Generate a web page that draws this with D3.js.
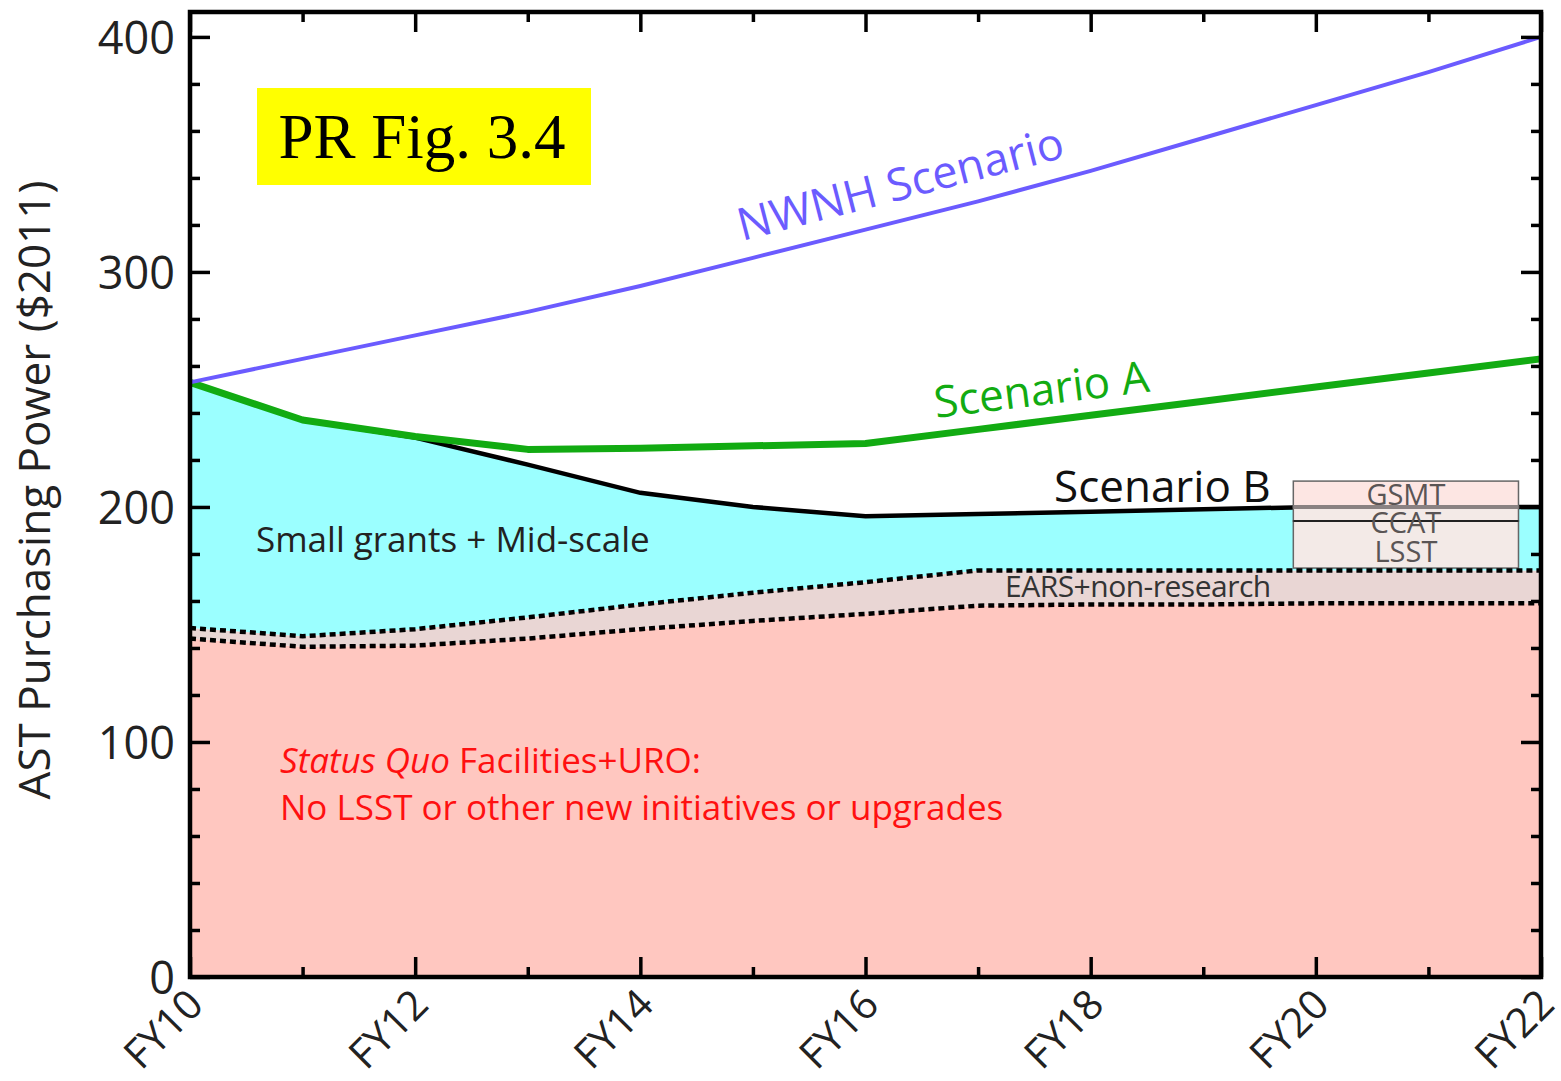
<!DOCTYPE html>
<html>
<head>
<meta charset="utf-8">
<script src="https://cdn.jsdelivr.net/npm/d3@7"></script>
<style>
  html, body { margin: 0; padding: 0; background: #fff; }
  svg { display: block; font-family: "Open Sans", sans-serif; }
</style>
</head>
<body>
<svg id="chart" width="1561" height="1081"></svg>
<script>
// fiscal years (FY10 .. FY22)
const years = [10, 11, 12, 13, 14, 15, 16, 17, 18, 19, 20, 21, 22];
const nwnh = [253, 263, 273, 283, 294, 306, 318, 330, 343, 357, 371, 385, 400];
const scenarioA = [253, 237, 230, 224.5, 225, 226, 227, 233, 239, 245, 251, 257, 263];
const scenarioB = [253, 237, 229.5, 218, 206, 200, 196, 197, 198, 199, 200, 200, 200];
const earsTop = [148.5, 145, 148, 153, 158.5, 163.5, 168, 173, 173, 173, 173, 173, 173];
const statusQuo = [144, 140.5, 141, 144, 148, 151.5, 154.5, 158, 158.5, 158.5, 159, 159, 159];

// new-initiative box (FY19.8 - FY21.8)
const boxYears = [19.8, 21.8];
const boxParts = ['LSST', 'CCAT', 'GSMT'];
const boxLow = [174, 194, 200];
const boxHigh = [194, 200, 211];

const yMajor = [0, 100, 200, 300, 400];
const yMinor = [20, 40, 60, 80, 120, 140, 160, 180, 220, 240, 260, 280, 320, 340, 360, 380];
const xMajor = [10, 12, 14, 16, 18, 20, 22];
const xMinor = [11, 13, 15, 17, 19, 21];

const pLeft = 190, pRight = 1541, pTop = 12, pBottom = 977;
const svg = d3.select('#chart');

const x = d3.scaleLinear().domain([10, 22]).range([pLeft, pRight]);
const y = d3.scaleLinear().domain([0, 410.6]).range([pBottom, pTop]);

const rows = years.map((yr, i) => ({
  year: yr, nwnh: nwnh[i], a: scenarioA[i], b: scenarioB[i], ears: earsTop[i], sq: statusQuo[i]
}));

const area = (lo, hi) => d3.area().x(d => x(d.year)).y0(lo).y1(hi);
const line = key => d3.line().x(d => x(d.year)).y(d => y(d[key]));

// Filled bands
svg.append('path').datum(rows)
  .attr('d', area(() => y(0), d => y(d.sq)))
  .attr('fill', '#ffc7c0');
svg.append('path').datum(rows)
  .attr('d', area(d => y(d.sq), d => y(d.ears)))
  .attr('fill', '#e9d6d4');
svg.append('path').datum(rows)
  .attr('d', area(d => y(d.ears), d => y(d.b)))
  .attr('fill', '#9bffff');

// Scenario B line
svg.append('path').datum(rows)
  .attr('d', line('b'))
  .attr('fill', 'none').attr('stroke', '#000').attr('stroke-width', 4.5);

// Box of new initiatives
const box = svg.append('g');
box.selectAll('rect').data(boxParts).join('rect')
  .attr('x', x(boxYears[0]))
  .attr('width', x(boxYears[1]) - x(boxYears[0]))
  .attr('y', (d, i) => y(boxHigh[i]))
  .attr('height', (d, i) => y(boxLow[i]) - y(boxHigh[i]))
  .attr('fill', d => d === 'GSMT' ? '#fde6e3' : '#f3eae7')
  .attr('stroke', '#666').attr('stroke-width', 1.5);
box.append('line')
  .attr('x1', x(boxYears[0])).attr('x2', x(boxYears[1]))
  .attr('y1', y(boxLow[2])).attr('y2', y(boxLow[2]))
  .attr('stroke', '#8a8282').attr('stroke-width', 4);
box.append('line')
  .attr('x1', x(boxYears[0])).attr('x2', x(boxYears[1]))
  .attr('y1', y(boxLow[1])).attr('y2', y(boxLow[1]))
  .attr('stroke', '#222').attr('stroke-width', 2);
box.selectAll('text').data(boxParts).join('text')
  .attr('x', (x(boxYears[0]) + x(boxYears[1])) / 2)
  .attr('y', (d, i) => [562, 533, 505][i])
  .attr('text-anchor', 'middle')
  .attr('font-size', '29px').attr('fill', '#5a5555')
  .text(d => d);

// Dashed boundaries
['ears', 'sq'].forEach(k => {
  svg.append('path').datum(rows)
    .attr('d', line(k))
    .attr('fill', 'none').attr('stroke', '#000')
    .attr('stroke-width', 4.5).attr('stroke-dasharray', '6,4');
});

// Scenario A and NWNH lines
svg.append('path').datum(rows)
  .attr('d', line('a'))
  .attr('fill', 'none').attr('stroke', '#12ab12').attr('stroke-width', 7)
  .attr('stroke-linejoin', 'round');
svg.append('path').datum(rows)
  .attr('d', line('nwnh'))
  .attr('fill', 'none').attr('stroke', '#6b5bff').attr('stroke-width', 4);

// Axes: ticks on all four sides, pointing inward
function styleAxis(g) {
  g.select('.domain').remove();
  g.selectAll('.tick line').attr('stroke', '#000').attr('stroke-width', 3.5);
}
const axes = svg.append('g');
axes.append('g').attr('transform', `translate(${pLeft},0)`)
  .call(d3.axisLeft(y).tickValues(yMajor).tickSize(-20).tickPadding(15))
  .call(styleAxis)
  .call(g => g.selectAll('.tick text').attr('font-size', '45px').attr('fill', '#222')
    .attr('font-family', '"Open Sans", sans-serif').attr('dy', '0.36em'));
axes.append('g').attr('transform', `translate(${pLeft},0)`)
  .call(d3.axisLeft(y).tickValues(yMinor).tickSize(-10).tickFormat(''))
  .call(styleAxis);
axes.append('g').attr('transform', `translate(${pRight},0)`)
  .call(d3.axisRight(y).tickValues(yMajor).tickSize(-20).tickFormat(''))
  .call(styleAxis);
axes.append('g').attr('transform', `translate(${pRight},0)`)
  .call(d3.axisRight(y).tickValues(yMinor).tickSize(-10).tickFormat(''))
  .call(styleAxis);
axes.append('g').attr('transform', `translate(0,${pBottom})`)
  .call(d3.axisBottom(x).tickValues(xMajor).tickSize(-20).tickFormat(d => 'FY' + d))
  .call(styleAxis)
  .call(g => g.selectAll('.tick text')
    .attr('font-size', '41px').attr('fill', '#222')
    .attr('font-family', '"Open Sans", sans-serif')
    .attr('x', 15).attr('y', 30).attr('dy', 0)
    .attr('text-anchor', 'end')
    .attr('transform', 'rotate(-45,15,30)'));
axes.append('g').attr('transform', `translate(0,${pBottom})`)
  .call(d3.axisBottom(x).tickValues(xMinor).tickSize(-10).tickFormat(''))
  .call(styleAxis);
axes.append('g').attr('transform', `translate(0,${pTop})`)
  .call(d3.axisTop(x).tickValues(xMajor).tickSize(-20).tickFormat(''))
  .call(styleAxis);
axes.append('g').attr('transform', `translate(0,${pTop})`)
  .call(d3.axisTop(x).tickValues(xMinor).tickSize(-10).tickFormat(''))
  .call(styleAxis);

// Frame
svg.append('rect')
  .attr('x', pLeft).attr('y', pTop)
  .attr('width', pRight - pLeft).attr('height', pBottom - pTop)
  .attr('fill', 'none').attr('stroke', '#000').attr('stroke-width', 4.5);

// Y axis title
svg.append('text')
  .attr('transform', 'translate(50,490) rotate(-90)')
  .attr('text-anchor', 'middle')
  .attr('font-size', '44px').attr('fill', '#222')
  .text('AST Purchasing Power ($2011)');

// Annotations
svg.append('rect').attr('x', 257).attr('y', 88).attr('width', 334).attr('height', 97)
  .attr('fill', '#ffff00');
svg.append('text').attr('x', 422).attr('y', 158).attr('text-anchor', 'middle')
  .attr('font-family', '"Liberation Serif", "Times New Roman", serif')
  .attr('font-size', '63px').attr('fill', '#000')
  .text('PR Fig. 3.4');

svg.append('text')
  .attr('transform', 'translate(742,241) rotate(-14.5)')
  .attr('font-size', '45px').attr('fill', '#6b5bff')
  .text('NWNH Scenario');

svg.append('text')
  .attr('transform', 'translate(936,418) rotate(-7)')
  .attr('font-size', '44px').attr('fill', '#12ab12')
  .text('Scenario A');

svg.append('text').attr('x', 1054).attr('y', 502)
  .attr('font-size', '44px').attr('fill', '#111')
  .text('Scenario B');

svg.append('text').attr('x', 256).attr('y', 552)
  .attr('font-size', '35px').attr('fill', '#222')
  .text('Small grants + Mid-scale');

svg.append('text').attr('x', 1005).attr('y', 597)
  .attr('font-size', '30px').attr('fill', '#333')
  .attr('letter-spacing', '-0.5px')
  .text('EARS+non-research');

const sq = svg.append('text').attr('x', 280).attr('y', 773)
  .attr('font-size', '35px').attr('fill', '#ff1010');
sq.append('tspan').attr('font-style', 'italic').text('Status Quo');
sq.append('tspan').text(' Facilities+URO:');
svg.append('text').attr('x', 280).attr('y', 820)
  .attr('font-size', '35px').attr('fill', '#ff1010')
  .text('No LSST or other new initiatives or upgrades');
</script>
</body>
</html>
